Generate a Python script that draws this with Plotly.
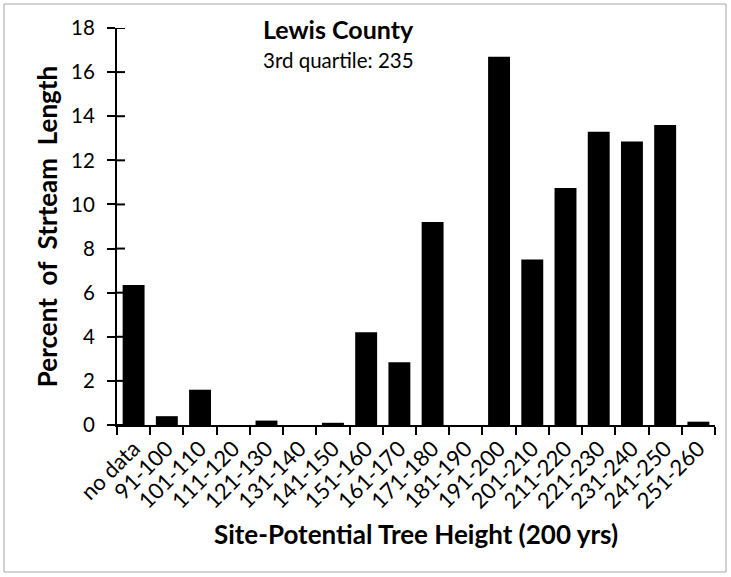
import plotly.graph_objects as go

categories = ["no data", "91-100", "101-110", "111-120", "121-130", "131-140",
              "141-150", "151-160", "161-170", "171-180", "181-190", "191-200",
              "201-210", "211-220", "221-230", "231-240", "241-250", "251-260"]
percent = [6.35, 0.4, 1.6, 0.0, 0.2, 0.0, 0.1, 4.2, 2.85, 9.2, 0.0, 16.7,
           7.5, 10.75, 13.3, 12.85, 13.6, 0.15]
y_ticks = [0, 2, 4, 6, 8, 10, 12, 14, 16, 18]

FONT = "Lato"

fig = go.Figure()
fig.add_trace(go.Bar(x=categories, y=percent, marker=dict(color="black", line=dict(width=0)),
                     showlegend=False))

# inside half of the "cross" style y ticks (outside half is the axis' own ticks)
tick_shapes = [
    dict(type="line", xref="paper", yref="y", xsizemode="pixel", xanchor=0,
         x0=0, x1=8, y0=v, y1=v, line=dict(color="black", width=2))
    for v in y_ticks
]

border = dict(type="rect", xref="paper", yref="paper",
              x0=-113 / 598, x1=1 + 11 / 598, y0=-147 / 397, y1=1 + 24 / 397,
              line=dict(color="#a6a6a6", width=1))

fig.update_layout(
    width=731, height=577,
    margin=dict(l=117, r=16, t=28, b=152),
    paper_bgcolor="white", plot_bgcolor="white",
    bargap=0.34,
    font=dict(family=FONT, color="black"),
    xaxis=dict(
        type="category", range=[-0.5, len(categories) - 0.5],
        tickson="boundaries", ticks="outside", ticklen=8, tickwidth=2,
        tickcolor="black", showline=True, linecolor="black", linewidth=2,
        tickangle=-45, tickfont=dict(size=22, family=FONT),
        showgrid=False, zeroline=False, automargin=False,
        title=dict(text="<b>Site-Potential Tree Height (200 yrs)</b>",
                   font=dict(size=26, family=FONT), standoff=13),
    ),
    yaxis=dict(
        range=[0, 18], tickvals=y_ticks, ticks="outside", ticklen=8, tickwidth=2,
        tickcolor="black", showline=True, linecolor="black", linewidth=2,
        tickfont=dict(size=20.5, family=FONT), showgrid=False, zeroline=False,
        automargin=False, ticklabelstandoff=8,
        title=dict(text="<b>Percent  of  Strteam  Length</b>",
                   font=dict(size=26, family=FONT), standoff=6),
    ),
    annotations=[
        dict(text="<b>Lewis County</b>", x=0.371, y=0.997, xref="paper", yref="paper",
             xanchor="center", yanchor="middle",
             showarrow=False, font=dict(size=25, family=FONT)),
        dict(text="3rd quartile: 235", x=0.371, y=0.919, xref="paper", yref="paper",
             xanchor="center", yanchor="middle",
             showarrow=False, font=dict(size=20.5, family=FONT)),
    ],
    shapes=tick_shapes + [border],
)

fig.write_html("out.html", config={"displayModeBar": False},
               post_script="document.body.style.margin='0';")
